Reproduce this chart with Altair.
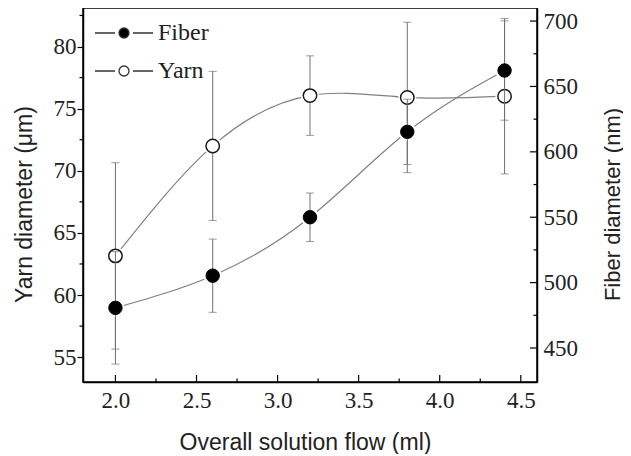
import altair as alt
import pandas as pd

# ---- data ----
flow = [2.0, 2.6, 3.2, 3.8, 4.4]
yarn = [63.15, 72.0, 76.05, 75.9, 76.0]
yarn_err = [7.5, 6.0, 3.2, 6.05, 6.25]
fiber = [480.7, 505.3, 550.0, 615.3, 662.2]
fiber_err = [43.0, 28.0, 18.5, 25.0, 38.0]
series = ["Fiber", "Yarn"]

x_major = [2.0, 2.5, 3.0, 3.5, 4.0, 4.5]
x_minor = [2.25, 2.75, 3.25, 3.75, 4.25]
yl_major = [55, 60, 65, 70, 75, 80]
yl_minor = [57.5, 62.5, 67.5, 72.5, 77.5, 82.5]
yr_major = [450, 500, 550, 600, 650, 700]
yr_minor = [475, 525, 575, 625, 675]

W, H = 454, 374
SERIF = "Liberation Serif"
SANS = "Liberation Sans"
LINE = "#808080"
ERR = "#707070"

df = pd.DataFrame({
    "flow": flow,
    "yarn": yarn,
    "yarn_lo": [v - e for v, e in zip(yarn, yarn_err)],
    "yarn_hi": [v + e for v, e in zip(yarn, yarn_err)],
    "fiber": fiber,
    "fiber_lo": [v - e for v, e in zip(fiber, fiber_err)],
    "fiber_hi": [v + e for v, e in zip(fiber, fiber_err)],
})
leg_df = pd.DataFrame({"series": series})

xs = alt.Scale(domain=[1.8, 4.6], nice=False, zero=False)
yls = alt.Scale(domain=[53, 83.1], nice=False, zero=False)
yrs = alt.Scale(domain=[424, 710], nice=False, zero=False)

x_axis = alt.Axis(values=x_major, format=".1f", tickSize=0, labelFont=SERIF,
                  labelFontSize=23, labelColor="#222", labelPadding=7,
                  title="Overall solution flow (ml)", titleFont=SANS, titleFontSize=23,
                  titleFontWeight="normal", titleColor="#222", titleX=W / 2 - 5, titleY=67,
                  titleBaseline="alphabetic", titleAlign="center",
                  domainColor="black", domainWidth=1.5, grid=False)
left_axis = alt.Axis(values=yl_major, tickSize=6, tickColor="black", tickWidth=1.2,
                     labelFont=SERIF, labelFontSize=23, labelColor="#222", labelPadding=1,
                     title="Yarn diameter (μm)", titleFont=SANS, titleFontSize=23,
                     titleFontWeight="normal", titleColor="#222", titleX=-52, titleY=196,
                     titleAngle=270, titleBaseline="alphabetic", titleAlign="center",
                     domainColor="black", domainWidth=1.5, grid=False)
right_axis = alt.Axis(orient="right", values=yr_major, tickSize=0, labelFont=SERIF,
                      labelFontSize=23, labelColor="#222", labelPadding=6,
                      title="Fiber diameter (nm)", titleFont=SANS, titleFontSize=22,
                      titleFontWeight="normal", titleColor="#222", titleX=82, titleY=196,
                      titleAngle=270, titleBaseline="alphabetic", titleAlign="center",
                      domainColor="black", domainWidth=1.5, grid=False)

base = alt.Chart(df)
X = alt.X("flow:Q", scale=xs)

# ---- left (yarn) group ----
yarn_line = base.mark_line(interpolate="natural", color=LINE, strokeWidth=1.2).encode(
    x=alt.X("flow:Q", scale=xs, axis=x_axis),
    y=alt.Y("yarn:Q", scale=yls, axis=left_axis))
yarn_halo = base.mark_point(filled=True, color="white", size=330, opacity=1).encode(
    x=X, y=alt.Y("yarn:Q", scale=yls))
yarn_bar = base.mark_rule(color=ERR, strokeWidth=1).encode(
    x=X, y=alt.Y("yarn_lo:Q", scale=yls), y2="yarn_hi:Q")
yarn_cap_lo = base.mark_tick(color=ERR, orient="horizontal", size=8, thickness=1).encode(
    x=X, y=alt.Y("yarn_lo:Q", scale=yls))
yarn_cap_hi = base.mark_tick(color=ERR, orient="horizontal", size=8, thickness=1).encode(
    x=X, y=alt.Y("yarn_hi:Q", scale=yls))
yarn_pts = base.mark_point(filled=True, fill="white", stroke="#1a1a1a", strokeWidth=1.5,
                           size=180, opacity=1).encode(
    x=X, y=alt.Y("yarn:Q", scale=yls))

x_major_ticks = alt.Chart(pd.DataFrame({"v": x_major})).mark_rule(
    color="black", strokeWidth=1.2).encode(
    x=alt.X("v:Q", scale=xs), y=alt.value(H), y2=alt.value(H - 7))
x_minor_ticks = alt.Chart(pd.DataFrame({"v": x_minor})).mark_rule(
    color="black", strokeWidth=1.2).encode(
    x=alt.X("v:Q", scale=xs), y=alt.value(H), y2=alt.value(H - 3.5))
yl_minor_ticks = alt.Chart(pd.DataFrame({"v": yl_minor})).mark_rule(
    color="black", strokeWidth=1.2).encode(
    y=alt.Y("v:Q", scale=yls), x=alt.value(0), x2=alt.value(-3.5))

sym = "M-5.8,0H-1.8M1.8,0H5.8M1,0A1,1,0,1,1,-1,0A1,1,0,1,1,1,0Z"
leg = alt.Legend(title=None, orient="none", legendX=29, legendY=13, padding=0,
                 symbolSize=100, symbolStrokeWidth=1.3, symbolOpacity=1,
                 labelFont=SERIF, labelFontSize=24, labelColor="#222",
                 labelOffset=22, rowPadding=14)
legend_layer = alt.Chart(leg_df).mark_point(filled=True, opacity=0, size=100).encode(
    shape=alt.Shape("series:N", scale=alt.Scale(domain=series, range=[sym, sym]), legend=leg),
    fill=alt.Fill("series:N", scale=alt.Scale(domain=series, range=["black", "white"]),
                  legend=leg),
    stroke=alt.Stroke("series:N", scale=alt.Scale(domain=series, range=["#333", "#333"]),
                      legend=leg))

left = alt.layer(yarn_line, yarn_halo, yarn_bar, yarn_cap_lo, yarn_cap_hi, yarn_pts,
                 x_major_ticks, x_minor_ticks, yl_minor_ticks, legend_layer)

# ---- right (fiber) group ----
fiber_line = base.mark_line(interpolate="natural", color=LINE, strokeWidth=1.2).encode(
    x=X, y=alt.Y("fiber:Q", scale=yrs, axis=right_axis))
fiber_halo = base.mark_point(filled=True, color="white", size=330, opacity=1).encode(
    x=X, y=alt.Y("fiber:Q", scale=yrs))
fiber_bar = base.mark_rule(color=ERR, strokeWidth=1).encode(
    x=X, y=alt.Y("fiber_lo:Q", scale=yrs), y2="fiber_hi:Q")
fiber_cap_lo = base.mark_tick(color=ERR, orient="horizontal", size=8, thickness=1).encode(
    x=X, y=alt.Y("fiber_lo:Q", scale=yrs))
fiber_cap_hi = base.mark_tick(color=ERR, orient="horizontal", size=8, thickness=1).encode(
    x=X, y=alt.Y("fiber_hi:Q", scale=yrs))
fiber_pts = base.mark_point(filled=True, fill="black", stroke="black", strokeWidth=1,
                            size=180, opacity=1).encode(
    x=X, y=alt.Y("fiber:Q", scale=yrs))
yr_major_ticks = alt.Chart(pd.DataFrame({"v": yr_major})).mark_rule(
    color="black", strokeWidth=1.2).encode(
    y=alt.Y("v:Q", scale=yrs), x=alt.value(W), x2=alt.value(W - 7))
yr_minor_ticks = alt.Chart(pd.DataFrame({"v": yr_minor})).mark_rule(
    color="black", strokeWidth=1.2).encode(
    y=alt.Y("v:Q", scale=yrs), x=alt.value(W), x2=alt.value(W - 3.5))

right = alt.layer(fiber_line, fiber_halo, fiber_bar, fiber_cap_lo, fiber_cap_hi, fiber_pts,
                  yr_major_ticks, yr_minor_ticks)

chart = alt.layer(left, right).resolve_scale(y="independent").properties(
    width=W, height=H,
    autosize=alt.AutoSizeParams(type="none"),
    padding={"left": 75, "top": 0, "right": 86, "bottom": 72},
).configure_view(stroke="black", strokeWidth=1.5)

chart.save("out.html", embed_options={"renderer": "svg", "actions": False})
